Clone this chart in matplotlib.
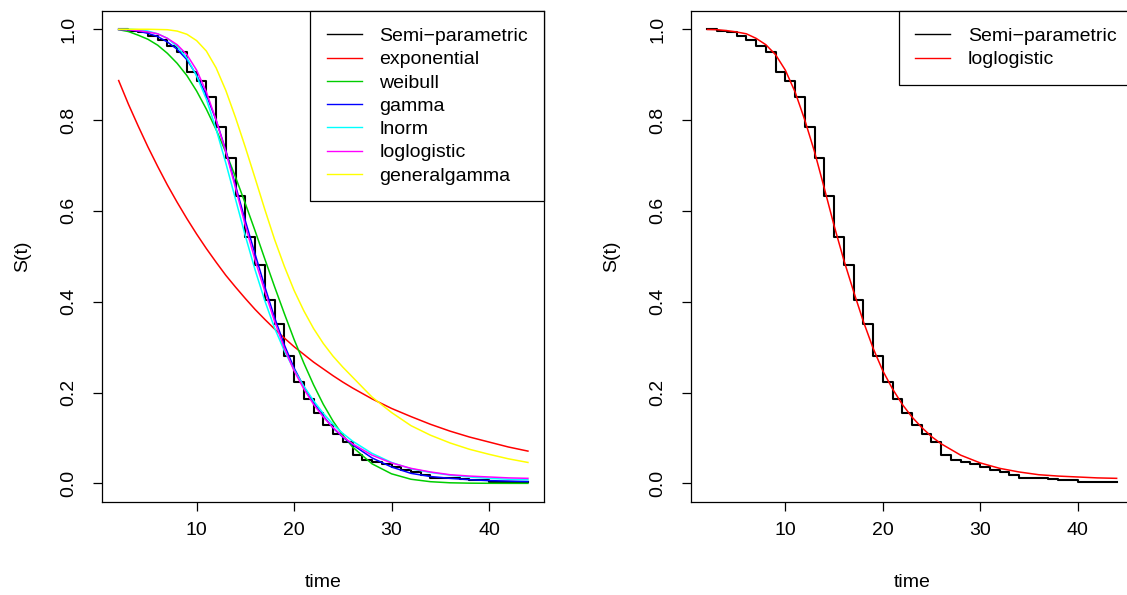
import numpy as np
import matplotlib
matplotlib.use('Agg')
import matplotlib.pyplot as plt

plt.rcParams['font.family'] = ['Liberation Sans', 'DejaVu Sans']
plt.rcParams['font.size'] = 14

# Kaplan-Meier style step estimate
km_time = [2, 3, 4, 5, 6, 7, 8, 9, 10, 11, 12, 13, 14, 15, 16, 17, 18, 19, 20,
           21, 22, 23, 24, 25, 26, 27, 28, 29, 30, 31, 32, 33, 34, 37, 38, 40, 41, 44]
km_surv = [1.0, 0.997, 0.993, 0.986, 0.976, 0.963, 0.949, 0.906, 0.886, 0.850,
           0.784, 0.717, 0.632, 0.543, 0.480, 0.403, 0.350, 0.280, 0.223, 0.185,
           0.155, 0.128, 0.109, 0.090, 0.062, 0.052, 0.047, 0.042, 0.035, 0.029,
           0.024, 0.019, 0.0125, 0.0095, 0.0073, 0.0037, 0.002, 0.002]

# fitted parametric curves, sampled along time
t_grid = [2, 3, 4, 5, 6, 7, 8, 9, 10, 11, 12, 13, 14, 15, 16, 17, 18, 19, 20,
          21, 22, 23, 24, 25, 26, 28, 30, 32, 34, 36, 38, 40, 42, 44]
s_exponential = [0.887, 0.835, 0.787, 0.741, 0.698, 0.657, 0.619, 0.583, 0.549,
                 0.517, 0.487, 0.458, 0.432, 0.407, 0.383, 0.361, 0.340, 0.320,
                 0.301, 0.284, 0.267, 0.252, 0.237, 0.223, 0.210, 0.186, 0.165,
                 0.147, 0.130, 0.115, 0.102, 0.091, 0.080, 0.071]
s_weibull = [0.999, 0.995, 0.987, 0.978, 0.965, 0.947, 0.925, 0.898, 0.864,
             0.824, 0.779, 0.729, 0.674, 0.616, 0.556, 0.494, 0.433, 0.374,
             0.317, 0.265, 0.217, 0.174, 0.137, 0.106, 0.080, 0.043, 0.021,
             0.009, 0.0036, 0.0012, 0.0004, 0.0001, 0.0, 0.0]
s_gamma = [0.9998, 0.999, 0.996, 0.991, 0.984, 0.972, 0.956, 0.933, 0.899,
           0.855, 0.800, 0.733, 0.655, 0.578, 0.505, 0.433, 0.365, 0.305,
           0.254, 0.213, 0.178, 0.148, 0.122, 0.102, 0.085, 0.056, 0.036,
           0.022, 0.015, 0.011, 0.008, 0.006, 0.005, 0.004]
s_lnorm = [1.0, 1.0, 0.999, 0.996, 0.990, 0.980, 0.962, 0.937, 0.897, 0.846,
           0.780, 0.705, 0.625, 0.545, 0.470, 0.402, 0.342, 0.292, 0.250,
           0.214, 0.182, 0.154, 0.130, 0.110, 0.093, 0.066, 0.046, 0.032,
           0.024, 0.018, 0.014, 0.011, 0.009, 0.008]
s_loglogistic = [0.9995, 0.999, 0.997, 0.994, 0.990, 0.980, 0.966, 0.944, 0.910,
                 0.862, 0.800, 0.730, 0.650, 0.568, 0.492, 0.423, 0.357, 0.298,
                 0.248, 0.208, 0.174, 0.146, 0.123, 0.103, 0.087, 0.062, 0.045,
                 0.033, 0.025, 0.019, 0.016, 0.014, 0.012, 0.011]
s_generalgamma = [1.0, 1.0, 1.0, 1.0, 0.9995, 0.999, 0.996, 0.989, 0.975, 0.952,
                  0.915, 0.865, 0.805, 0.740, 0.672, 0.603, 0.537, 0.478, 0.425,
                  0.380, 0.341, 0.308, 0.280, 0.256, 0.234, 0.190, 0.156, 0.127,
                  0.106, 0.089, 0.075, 0.064, 0.054, 0.046]

models = ['exponential', 'weibull', 'gamma', 'lnorm', 'loglogistic', 'generalgamma']
curves = [s_exponential, s_weibull, s_gamma, s_lnorm, s_loglogistic, s_generalgamma]
colors = ['#FF0000', '#00CD00', '#0000FF', '#00FFFF', '#FF00FF', '#FFFF00']

fig = plt.figure(figsize=(11.27, 5.95), dpi=100)
ax1 = fig.add_axes([102.3 / 1127, 1 - 501.5 / 595, 442 / 1127, 490.4 / 595])
ax2 = fig.add_axes([691 / 1127, 1 - 501.5 / 595, 442 / 1127, 490.4 / 595])


def style(ax):
    ax.set_xlim(0.32, 45.68)
    ax.set_ylim(-0.04, 1.04)
    ax.set_xticks([10, 20, 30, 40])
    ax.set_yticks([0, 0.2, 0.4, 0.6, 0.8, 1.0])
    ax.set_yticklabels(['0.0', '0.2', '0.4', '0.6', '0.8', '1.0'], rotation=90, va='center')
    ax.tick_params(direction='out', length=6.5, width=0.9)
    ax.tick_params(axis='x', pad=8.5)
    ax.tick_params(axis='y', pad=11.5)
    for sp in ax.spines.values():
        sp.set_linewidth(0.9)
    ax.set_xlabel('time')
    ax.set_ylabel('S(t)')
    ax.xaxis.set_label_coords(0.5, -0.166)
    ax.xaxis.label.set_va('center')
    ax.yaxis.set_label_coords(-0.18, 0.5)
    ax.yaxis.label.set_va('center')


def add_legend(ax):
    leg = ax.legend(loc='upper right', borderaxespad=0, fancybox=False, framealpha=1,
                    edgecolor='black', handlelength=1.8, handletextpad=0.9,
                    borderpad=0.85, labelspacing=0.29)
    leg.get_frame().set_linewidth(0.9)
    for h in leg.get_lines():
        h.set_linewidth(1.0)


# left: all models
ax1.step(km_time, km_surv, where='post', color='black', lw=1.5, label='Semi\u2212parametric')
for name, s, c in zip(models, curves, colors):
    ax1.plot(t_grid, s, color=c, lw=1.1, label=name)
style(ax1)
add_legend(ax1)

# right: best model only
ax2.step(km_time, km_surv, where='post', color='black', lw=1.5, label='Semi\u2212parametric')
ax2.plot(t_grid, s_loglogistic, color='#FF0000', lw=1.1, label='loglogistic')
style(ax2)
add_legend(ax2)

fig.savefig('out.png', dpi=100)
